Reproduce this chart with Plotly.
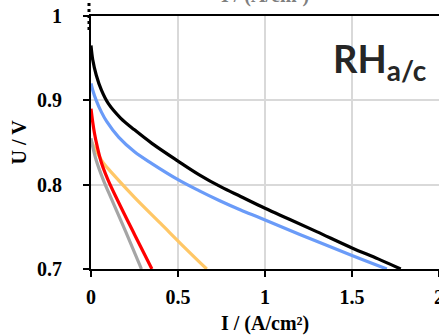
import plotly.graph_objects as go

# ---- data ----
i_black = [0, 0.01, 0.03, 0.06, 0.1, 0.17, 0.25, 0.35, 0.5, 0.62, 0.75, 0.86, 1.0, 1.14, 1.3, 1.5, 1.65, 1.78]
u_black = [0.965, 0.948, 0.930, 0.912, 0.896, 0.879, 0.865, 0.849, 0.828, 0.812, 0.797, 0.786, 0.772, 0.759, 0.744, 0.725, 0.712, 0.700]

i_blue = [0, 0.01, 0.03, 0.06, 0.09, 0.16, 0.25, 0.35, 0.5, 0.62, 0.74, 0.86, 0.98, 1.2, 1.5, 1.70]
u_blue = [0.920, 0.912, 0.900, 0.886, 0.875, 0.856, 0.839, 0.825, 0.806, 0.793, 0.781, 0.770, 0.760, 0.741, 0.716, 0.700]

i_red = [0, 0.01, 0.02, 0.035, 0.06, 0.097, 0.154, 0.25, 0.35]
u_red = [0.890, 0.874, 0.861, 0.846, 0.826, 0.806, 0.781, 0.741, 0.700]

i_grey = [0, 0.01, 0.03, 0.07, 0.12, 0.2, 0.29]
u_grey = [0.855, 0.845, 0.829, 0.806, 0.782, 0.744, 0.700]

i_orange = [0, 0.03, 0.07, 0.12, 0.25, 0.4, 0.55, 0.665]
u_orange = [0.852, 0.840, 0.826, 0.814, 0.785, 0.754, 0.723, 0.700]

x_ticks = [0, 0.5, 1, 1.5, 2]
y_ticks = [0.7, 0.8, 0.9, 1.0]

x_title = "I / (A/cm²)"
y_title = "U / V"
label = "RH<sub><span style='font-size:28px'>a/c</span></sub>"

series = [
    (i_orange, u_orange, "#FFC766"),
    (i_grey, u_grey, "#A5A5A5"),
    (i_red, u_red, "#FF0000"),
    (i_blue, u_blue, "#6A9BF8"),
    (i_black, u_black, "#000000"),
]

fig = go.Figure()
for xs, ys, col in series:
    fig.add_trace(go.Scatter(x=xs, y=ys, mode="lines",
                             line=dict(color=col, width=3.2, shape="spline", smoothing=1.0),
                             showlegend=False, hoverinfo="skip"))

serif_bold = dict(family="Liberation Serif", size=20, color="black", weight="bold")

fig.update_layout(
    width=439, height=335,
    margin=dict(l=91, r=0, t=16, b=66),
    paper_bgcolor="white", plot_bgcolor="white",
    showlegend=False,
    xaxis=dict(range=[0, 2], tickvals=x_ticks, showline=True, linewidth=2, linecolor="black",
               mirror=True, ticks="outside", ticklen=6, tickwidth=2, tickcolor="black",
               showgrid=True, gridcolor="#D9D9D9", gridwidth=1.5, zeroline=False,
               tickfont=serif_bold, ticklabelstandoff=3, ticklabeloverflow="allow",
               automargin=False),
    yaxis=dict(range=[0.7, 1.0], tickvals=y_ticks, showline=True, linewidth=2, linecolor="black",
               ticks="outside", ticklen=6, tickwidth=2, tickcolor="black",
               showgrid=True, gridcolor="#D9D9D9", gridwidth=1.5, zeroline=False,
               tickfont=serif_bold, ticklabelstandoff=17, ticklabeloverflow="allow",
               automargin=False),
)

fig.add_annotation(text=y_title, xref="paper", yref="paper", x=-73/348, y=0.5,
                   xanchor="center", yanchor="middle", textangle=-90, showarrow=False,
                   font=dict(family="Liberation Serif", size=20, color="black", weight="bold"))
fig.add_annotation(text=x_title, xref="paper", yref="paper", x=0.5, y=-54/253,
                   xanchor="center", yanchor="middle", showarrow=False,
                   font=dict(family="Liberation Serif", size=20, color="black", weight="bold"))
# partially visible title of the chart above
fig.add_annotation(text=x_title, xref="paper", yref="paper", x=0.5, y=1 + 7/253,
                   xanchor="center", yanchor="bottom", showarrow=False,
                   font=dict(family="Liberation Serif", size=20, color="#7F7F7F", weight="bold"))
fig.add_annotation(text=label, xref="paper", yref="paper", x=240/348, y=1 - 45/253,
                   xanchor="left", yanchor="middle", showarrow=False,
                   font=dict(family="Lato", size=38, color="#262626", weight="bold"))
# selection handles visible in the reference
fig.add_shape(type="line", xref="paper", yref="paper", x0=-2/348, x1=-2/348,
              y0=1 - 14/253, y1=1 + 16/253,
              line=dict(color="black", width=3, dash="dot"))

fig.write_html("out.html", config={"displayModeBar": False},
               post_script="document.body.style.margin='0';")
